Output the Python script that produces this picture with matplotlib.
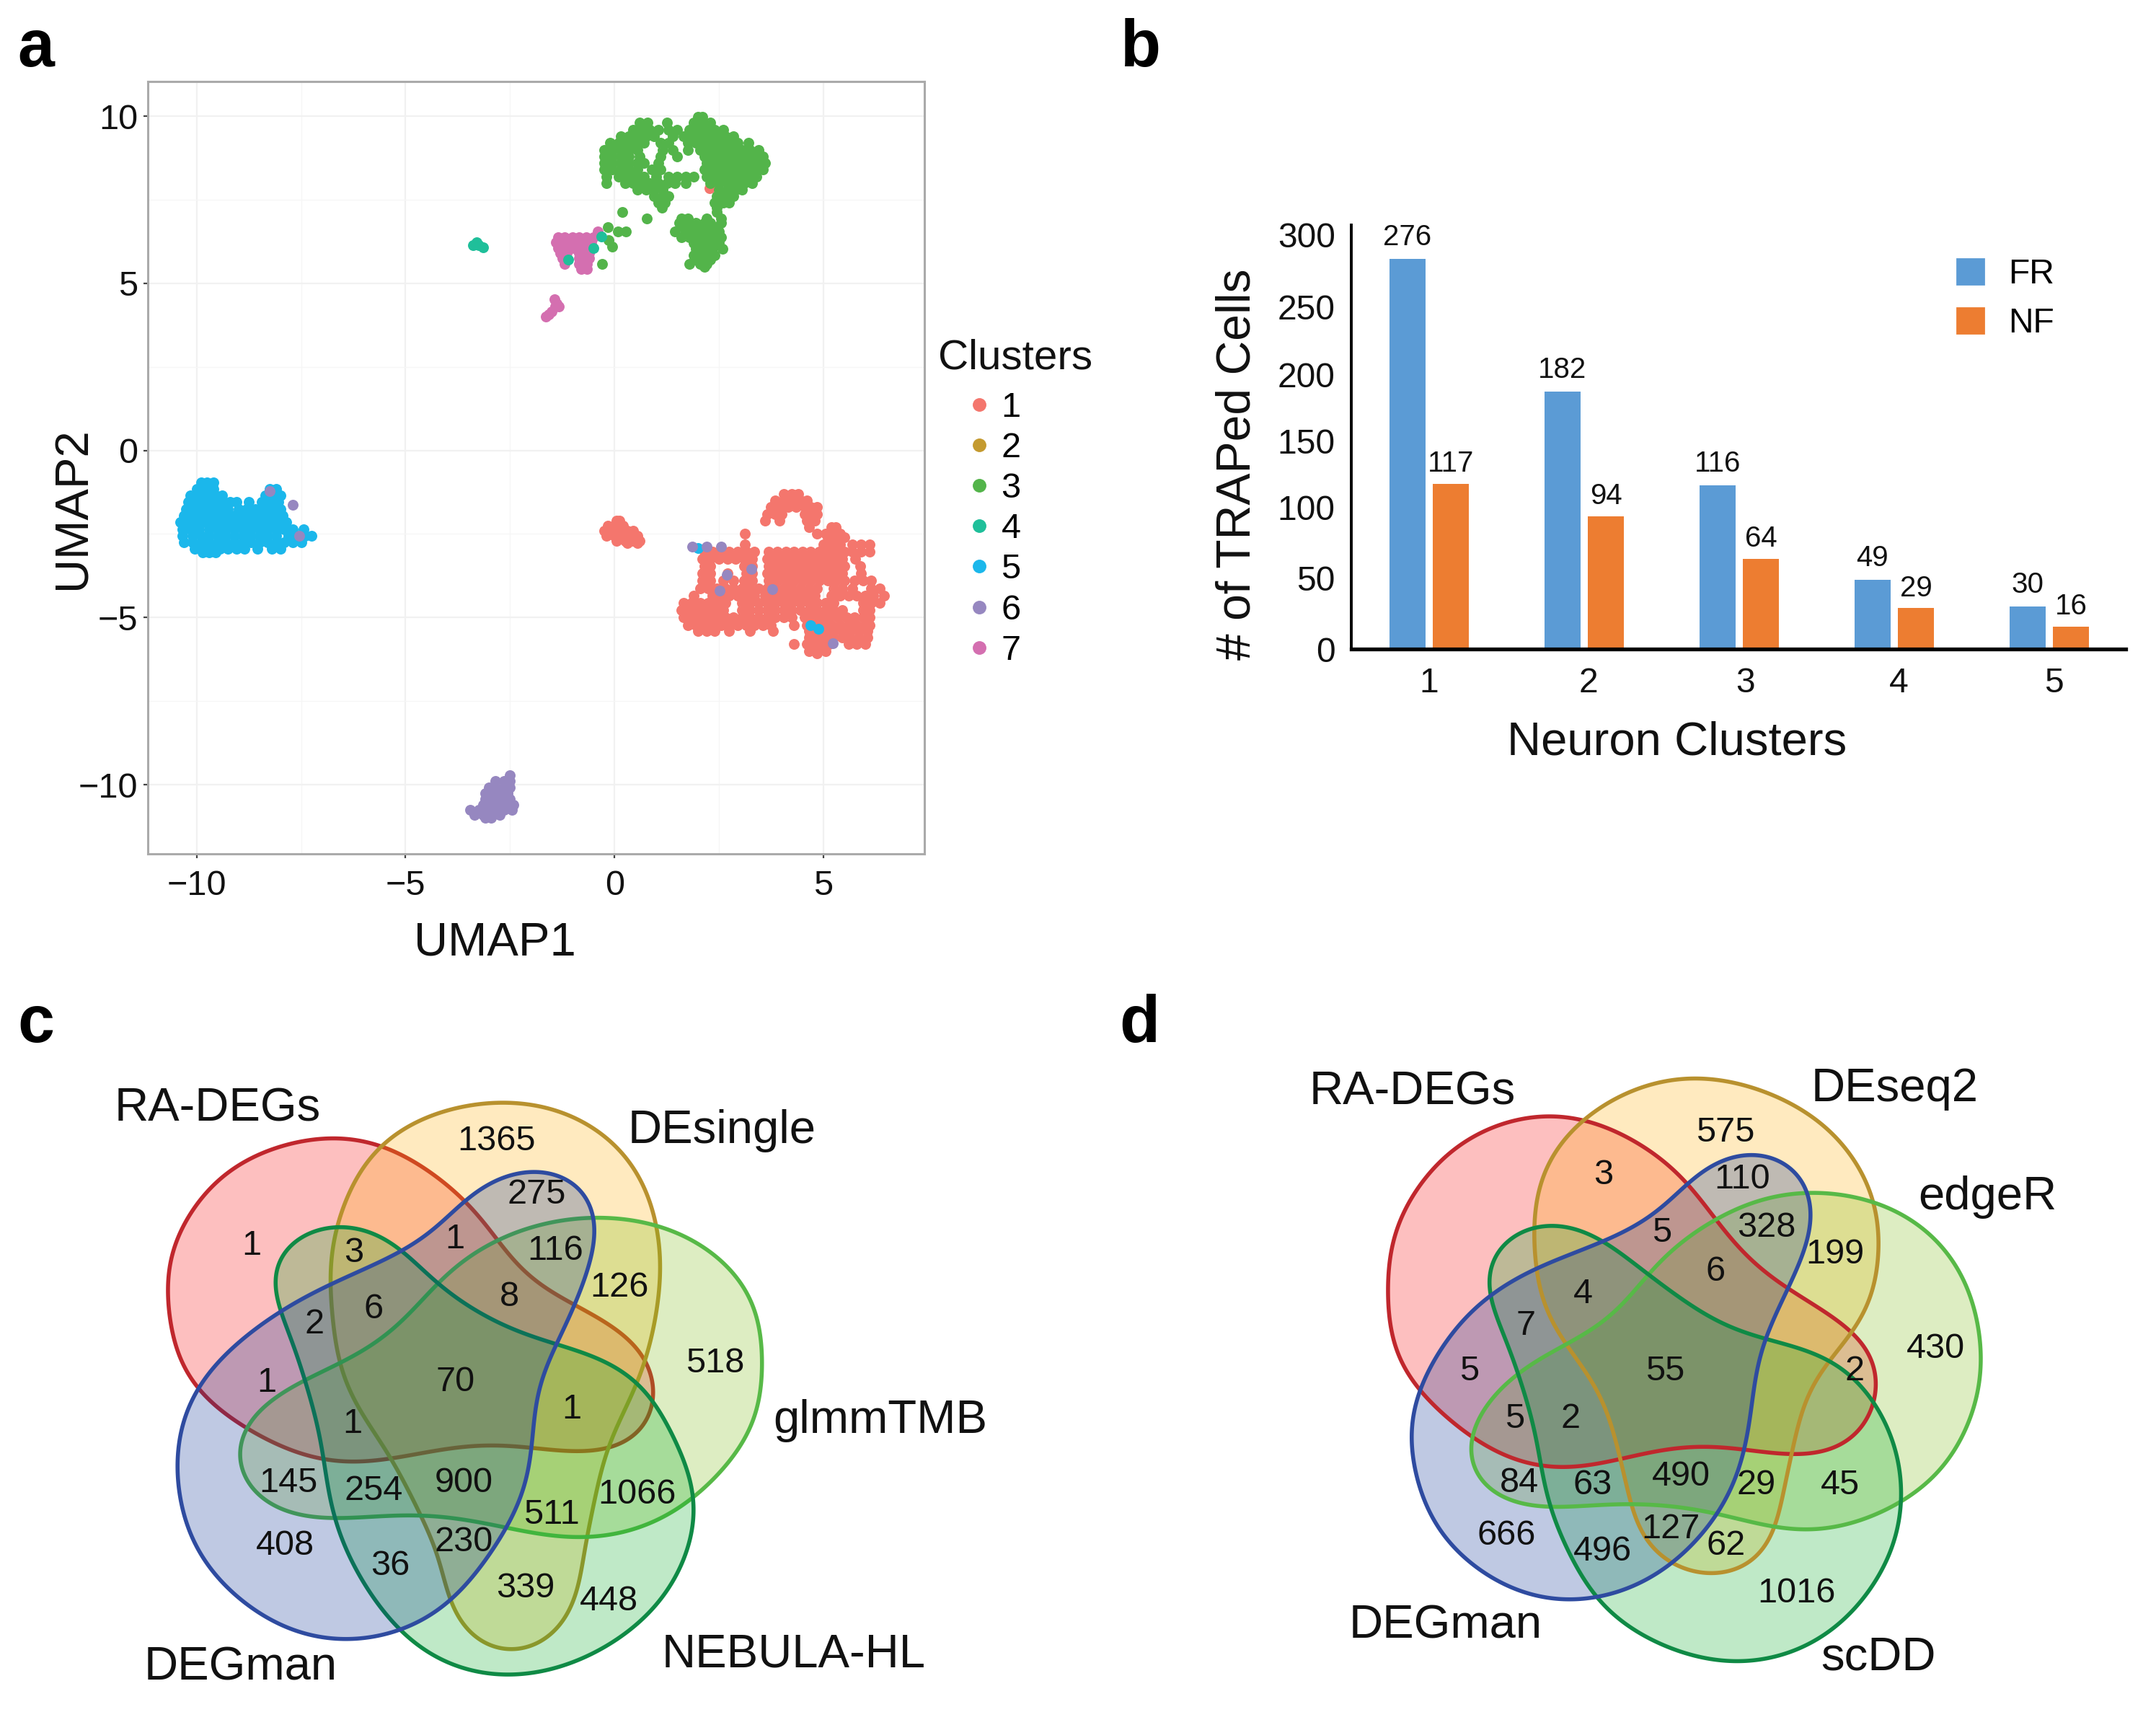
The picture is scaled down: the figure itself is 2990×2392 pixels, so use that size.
import matplotlib
matplotlib.use('Agg')
import matplotlib.pyplot as plt
from matplotlib.lines import Line2D
from matplotlib.patches import PathPatch, Patch
from matplotlib.path import Path
from matplotlib.colors import to_rgba
import numpy as np

plt.rcParams['font.family'] = ['Liberation Sans', 'DejaVu Sans']

W, H = 2990, 2392
DPI = 200

cluster1_rows = [
    (-1.3, [4.05, 4.25, 4.4]),
    (-1.5, [3.85, 4.05, 4.25, 4.45, 4.6]),
    (-1.7, [3.75, 3.95, 4.15, 4.35, 4.55, 4.7, 4.85]),
    (-1.9, [3.65, 3.85, 4.0, 4.55, 4.7, 4.85]),
    (-2.1, [3.6, 3.95, 4.6, 4.8]),
    (-2.3, [4.65, 5.2, 5.3]),
    (-2.5, [3.13, 4.85, 5.05, 5.25, 5.4]),
    (-2.6, [5.1, 5.3, 5.5]),
    (-2.82, [3.13, 5.0, 5.2, 5.4, 5.7, 5.9, 6.1]),
    (-3.02, [2.15, 2.35, 2.55, 2.75, 2.95, 3.15, 3.35, 3.7, 3.9, 4.1, 4.3, 4.5, 4.7, 4.9, 5.1, 5.3, 5.5, 5.7, 5.9, 6.1]),
    (-3.24, [2.1, 2.3, 2.5, 2.7, 2.9, 3.1, 3.3, 3.65, 3.85, 4.05, 4.25, 4.45, 4.65, 4.85, 5.05, 5.25, 5.45, 5.76]),
    (-3.46, [2.15, 2.3, 3.1, 3.3, 3.7, 3.9, 4.1, 4.3, 4.5, 4.7, 4.9, 5.1, 5.3, 5.5, 5.89]),
    (-3.68, [2.1, 2.3, 2.7, 3.15, 3.3, 3.65, 3.85, 4.05, 4.25, 4.45, 4.65, 4.85, 5.05, 5.25, 5.45, 5.9]),
    (-3.9, [2.1, 2.3, 2.6, 2.85, 3.1, 3.3, 3.7, 3.9, 4.1, 4.3, 4.5, 4.7, 4.9, 5.1, 5.3, 5.5, 5.75, 5.95, 6.15]),
    (-4.12, [2.05, 2.25, 2.45, 2.65, 2.85, 3.05, 3.25, 3.45, 3.65, 3.85, 4.05, 4.25, 4.45, 4.65, 4.85, 5.25, 5.45, 5.7, 6.15, 6.35]),
    (-4.34, [1.9, 2.35, 2.55, 2.75, 2.95, 3.15, 3.35, 3.6, 3.8, 4.0, 4.2, 4.4, 4.6, 4.8, 5.2, 5.4, 5.6, 5.8, 6.0, 6.2, 6.45]),
    (-4.56, [1.65, 1.85, 2.05, 2.25, 2.45, 2.65, 3.05, 3.25, 3.45, 3.65, 3.85, 4.05, 4.25, 4.45, 4.65, 4.85, 5.05, 5.25, 5.95, 6.15, 6.35]),
    (-4.78, [1.6, 1.8, 2.0, 2.2, 2.4, 2.6, 3.05, 3.25, 3.45, 3.65, 3.85, 4.05, 4.25, 4.45, 4.65, 4.85, 5.05, 5.25, 5.45, 5.95, 6.1]),
    (-5.0, [1.65, 1.85, 2.05, 2.25, 2.45, 2.65, 2.85, 3.05, 3.25, 3.45, 3.65, 3.85, 4.05, 4.25, 4.55, 4.75, 4.95, 5.15, 5.35, 5.55, 5.75, 5.95, 6.1]),
    (-5.22, [1.75, 1.95, 2.15, 2.35, 2.55, 2.75, 2.95, 3.15, 3.35, 3.55, 3.75, 4.3, 4.6, 4.8, 5.0, 5.2, 5.4, 5.6, 5.8, 6.0, 6.1]),
    (-5.4, [2.0, 2.2, 2.4, 2.75, 3.25, 3.8, 4.65, 4.85, 5.05, 5.25, 5.45, 5.65, 5.85, 6.05]),
    (-5.6, [4.65, 4.85, 5.05, 5.25, 5.45, 5.65, 5.85, 6.05]),
    (-5.8, [4.3, 4.6, 4.8, 5.0, 5.15, 5.6, 5.8, 6.0]),
    (-6.0, [4.65, 4.85, 5.05]),
    (-6.08, [4.85]),
    # small blob next to zero
    (-2.1, [0.05, 0.12]),
    (-2.25, [-0.15, 0.0, 0.2]),
    (-2.4, [-0.25, -0.05, 0.15, 0.3, 0.45]),
    (-2.55, [-0.2, 0.0, 0.2, 0.4, 0.55]),
    (-2.7, [0.05, 0.25, 0.45, 0.6]),
    (-2.78, [0.3, 0.55]),
    (7.84, [2.27]),
]
cluster3_rows = [
    (9.98, [2.0, 2.1]),
    (9.8, [0.6, 0.8, 1.25, 1.9, 2.1, 2.3]),
    (9.6, [0.45, 0.65, 0.85, 1.05, 1.3, 1.5, 1.8, 2.0, 2.2, 2.4, 2.6]),
    (9.4, [0.15, 0.35, 0.55, 0.75, 0.95, 1.4, 1.65, 1.85, 2.05, 2.25, 2.45, 2.65, 2.85]),
    (9.2, [-0.1, 0.1, 0.3, 0.5, 0.7, 1.1, 1.3, 1.75, 1.95, 2.15, 2.35, 2.55, 2.75, 2.95, 3.2]),
    (9.0, [-0.25, -0.05, 0.15, 0.35, 0.55, 1.15, 1.4, 1.75, 2.05, 2.25, 2.45, 2.65, 2.85, 3.05, 3.25, 3.45]),
    (8.8, [-0.25, -0.05, 0.15, 0.35, 0.6, 1.1, 1.5, 2.15, 2.35, 2.55, 2.75, 2.95, 3.15, 3.35, 3.55]),
    (8.6, [-0.25, -0.05, 0.15, 0.35, 0.55, 0.7, 1.05, 2.2, 2.4, 2.6, 2.8, 3.0, 3.2, 3.4, 3.6]),
    (8.4, [-0.25, -0.05, 0.15, 0.35, 0.55, 0.9, 1.1, 2.15, 2.35, 2.55, 2.75, 2.95, 3.15, 3.35, 3.55]),
    (8.2, [-0.2, 0.1, 0.3, 0.5, 0.7, 1.0, 1.3, 1.5, 1.7, 1.9, 2.2, 2.4, 2.6, 2.8, 3.0, 3.2, 3.4]),
    (8.0, [-0.2, 0.25, 0.45, 0.65, 0.85, 1.05, 1.25, 1.45, 1.7, 2.3, 2.5, 2.7, 2.9, 3.1, 3.3]),
    (7.8, [0.55, 0.75, 0.95, 1.15, 2.5, 2.7, 2.9, 3.05]),
    (7.6, [0.95, 1.15, 1.3, 2.45, 2.65, 2.85]),
    (7.42, [1.05, 1.2, 2.4, 2.6, 2.75]),
    (7.27, [1.13, 2.45]),
    (7.13, [0.18, 2.45]),
    (6.95, [0.77, 1.6, 1.75, 2.2, 2.55]),
    (6.8, [1.55, 1.75, 1.95, 2.15, 2.3, 2.55]),
    (6.68, [-0.15, 1.65, 1.85, 2.05, 2.25, 2.45]),
    (6.55, [0.08, 0.28, 1.45, 1.7, 1.9, 2.1, 2.3, 2.5]),
    (6.38, [1.6, 1.8, 2.0, 2.2, 2.4, 2.55]),
    (6.3, [-0.14]),
    (6.2, [1.9, 2.1, 2.3, 2.5]),
    (6.1, [-0.05]),
    (6.03, [1.95, 2.15, 2.35, 2.58]),
    (5.85, [1.9, 2.05, 2.25, 2.4]),
    (5.7, [1.95, 2.15, 2.3]),
    (5.58, [-0.29, 1.8, 2.05, 2.2]),
    (5.5, [2.15]),
]
cluster4_rows = [
    (6.22, [-3.3]),
    (6.14, [-3.38, -3.25]),
    (6.08, [-3.15]),
    (6.4, [-0.32]),
    (6.05, [-0.51]),
    (5.72, [-1.1]),
]
cluster5_rows = [
    (-0.95, [-9.9, -9.75, -9.6]),
    (-1.15, [-10.0, -9.8, -9.6, -8.25, -8.1]),
    (-1.35, [-10.15, -9.95, -9.75, -9.55, -9.4, -8.35, -8.15, -8.0]),
    (-1.55, [-10.2, -10.0, -9.8, -9.6, -9.4, -9.2, -9.05, -8.75, -8.45, -8.25, -8.05]),
    (-1.75, [-10.25, -10.05, -9.85, -9.65, -9.45, -9.25, -9.0, -8.8, -8.6, -8.4, -8.2, -8.0]),
    (-1.95, [-10.3, -10.1, -9.9, -9.7, -9.5, -9.3, -9.1, -8.9, -8.7, -8.5, -8.3, -8.1, -7.95]),
    (-2.15, [-10.4, -10.2, -10.0, -9.8, -9.6, -9.4, -9.2, -9.0, -8.8, -8.6, -8.4, -8.2, -8.0, -7.85]),
    (-2.35, [-10.35, -10.15, -9.95, -9.7, -9.5, -9.3, -9.1, -8.9, -8.7, -8.5, -8.3, -8.1, -7.9, -7.7, -7.45]),
    (-2.55, [-10.35, -10.1, -9.9, -9.7, -9.5, -9.3, -9.1, -8.9, -8.7, -8.5, -8.3, -8.1, -7.8, -7.6, -7.4, -7.25]),
    (-2.75, [-10.3, -10.1, -9.9, -9.7, -9.5, -9.3, -9.1, -8.9, -8.7, -8.5, -8.3, -8.1, -7.9, -7.7, -7.5]),
    (-2.95, [-10.05, -9.85, -9.65, -9.45, -9.25, -9.05, -8.85, -8.55, -8.2, -8.0]),
    (-3.05, [-9.85, -9.7, -9.55]),
    (-2.93, [2.0]),
    (-5.24, [4.7]),
    (-5.34, [4.88]),
]
cluster6_rows = [
    (-9.72, [-2.5]),
    (-9.9, [-2.85, -2.65, -2.5]),
    (-10.08, [-3.0, -2.85, -2.65, -2.5]),
    (-10.25, [-3.1, -2.95, -2.75, -2.55]),
    (-10.42, [-3.1, -2.9, -2.7, -2.5]),
    (-10.6, [-3.15, -2.95, -2.75, -2.55, -2.42]),
    (-10.75, [-3.45, -3.25, -3.05, -2.85, -2.65, -2.45]),
    (-10.9, [-3.35, -3.15, -2.95, -2.75]),
    (-11.0, [-3.1, -2.95]),
    (-2.88, [1.87, 2.2, 2.56]),
    (-3.71, [2.69]),
    (-3.55, [3.28]),
    (-4.2, [2.52]),
    (-4.15, [3.78]),
    (-5.76, [5.22]),
    (-1.22, [-8.26]),
    (-2.55, [-7.54]),
    (-1.62, [-7.7]),
]
cluster7_rows = [
    (6.55, [-0.4]),
    (6.38, [-1.35, -1.2, -1.0, -0.85, -0.68, -0.5]),
    (6.22, [-1.4, -1.25, -1.05, -0.9, -0.72, -0.55]),
    (6.06, [-1.35, -1.15, -1.0, -0.8, -0.62]),
    (5.9, [-1.3, -1.15, -0.85, -0.7, -0.6]),
    (5.75, [-1.25, -0.85, -0.7, -0.6]),
    (5.58, [-1.2, -0.85, -0.65]),
    (5.42, [-0.8, -0.65]),
    (4.53, [-1.43]),
    (4.4, [-1.38]),
    (4.3, [-1.33, -1.42]),
    (4.15, [-1.5]),
    (4.06, [-1.58]),
    (4.0, [-1.64]),
]

cluster_labels = ['1', '2', '3', '4', '5', '6', '7']
cluster_colors = ['#F4766D', '#C49A2F', '#53B44A', '#1FBF9A', '#1BB7EB', '#9687C0', '#D46FB0']

# --- panel b ---
neuron_clusters = [1, 2, 3, 4, 5]
fr_counts = [276, 182, 116, 49, 30]
nf_counts = [117, 94, 64, 29, 16]

# --- panels c and d: outlines and labels, in the same 1568x1568 grid per panel ---
set_colors = ['#F80000', '#FFAF00', '#7BBB0F', '#03AB23', '#032B93']
line_colors = ['#C0272D', '#B8912E', '#57B947', '#0F8A45', '#2E4BA0']

c_red = [(505, 328), (580, 345), (650, 395), (715, 465), (770, 565), (830, 645), (900, 700), (970, 760),
         (1000, 840), (995, 920), (960, 975), (900, 995), (810, 985), (720, 980), (640, 1000), (540, 1017),
         (470, 1005), (390, 955), (320, 890), (275, 800), (255, 680), (265, 560), (310, 450), (390, 365)]
c_gold = [(770, 252), (860, 275), (940, 340), (995, 450), (1012, 590), (1005, 720), (975, 850), (930, 990),
          (905, 1120), (895, 1230), (870, 1330), (830, 1400), (785, 1417), (730, 1395), (695, 1320), (670, 1220),
          (640, 1110), (590, 990), (535, 870), (510, 740), (505, 620), (520, 490), (565, 370), (650, 285)]
c_lgreen = [(920, 498), (1010, 515), (1100, 580), (1155, 680), (1170, 820), (1150, 950), (1090, 1060), (1010, 1140),
            (920, 1175), (830, 1170), (760, 1150), (680, 1130), (590, 1130), (500, 1135), (420, 1115), (375, 1050),
            (365, 980), (400, 900), (470, 840), (560, 780), (630, 700), (690, 610), (770, 540), (840, 510)]
c_dgreen = [(520, 515), (580, 535), (630, 590), (690, 660), (770, 730), (850, 765), (940, 810), (1010, 900),
            (1055, 1040), (1065, 1140), (1030, 1280), (950, 1390), (860, 1450), (770, 1468), (680, 1440), (610, 1370),
            (550, 1260), (510, 1130), (495, 1000), (470, 850), (430, 700), (420, 630), (445, 550)]
c_blue = [(820, 398), (875, 420), (910, 490), (905, 590), (880, 690), (845, 780), (820, 900), (812, 1000),
          (800, 1090), (760, 1190), (700, 1300), (620, 1370), (530, 1393), (440, 1370), (360, 1300), (300, 1200),
          (272, 1080), (275, 950), (310, 840), (380, 745), (450, 680), (530, 625), (620, 570), (700, 480), (760, 420)]

d_red = [(730, 283), (800, 295), (880, 340), (950, 405), (1010, 500), (1070, 590), (1140, 655), (1220, 720),
         (1275, 790), (1280, 870), (1255, 950), (1210, 990), (1140, 1000), (1060, 990), (985, 982), (900, 995),
         (820, 1020), (740, 1028), (660, 1005), (590, 950), (510, 860), (470, 750), (462, 640), (480, 510),
         (540, 390), (630, 310)]
d_gold = [(975, 203), (1080, 225), (1170, 280), (1250, 380), (1285, 510), (1285, 600), (1255, 720), (1190, 820),
          (1150, 930), (1135, 1030), (1115, 1140), (1075, 1230), (1000, 1255), (930, 1225), (885, 1160), (860, 1050),
          (830, 900), (780, 800), (730, 700), (710, 600), (710, 470), (745, 350), (820, 265), (900, 218)]
d_lgreen = [(1180, 445), (1280, 465), (1370, 530), (1430, 630), (1457, 760), (1450, 890), (1400, 1020), (1320, 1105),
            (1230, 1150), (1150, 1160), (1060, 1140), (960, 1110), (860, 1105), (760, 1110), (680, 1105), (620, 1060),
            (600, 980), (630, 890), (700, 810), (790, 750), (860, 680), (920, 590), (1000, 510), (1090, 460)]
d_dgreen = [(735, 512), (790, 530), (850, 570), (920, 640), (1000, 710), (1090, 755), (1190, 790), (1270, 870),
            (1315, 990), (1325, 1100), (1300, 1230), (1230, 1350), (1140, 1420), (1040, 1440), (930, 1410), (830, 1330),
            (770, 1220), (730, 1090), (710, 950), (680, 820), (640, 690), (632, 610), (670, 540)]
d_blue = [(1075, 363), (1130, 385), (1165, 440), (1172, 510), (1150, 610), (1105, 720), (1080, 830), (1065, 960),
          (1045, 1060), (990, 1170), (920, 1250), (840, 1295), (770, 1308), (680, 1290), (590, 1220), (530, 1120),
          (503, 1000), (510, 880), (570, 740), (640, 660), (720, 600), (830, 550), (910, 490), (970, 425), (1020, 380)]

c_numbers = [('1', 385, 560), ('1365', 760, 338), ('275', 822, 452), ('1', 697, 545), ('116', 850, 570),
             ('3', 542, 575), ('126', 948, 648), ('8', 780, 668), ('6', 572, 693), ('2', 482, 725),
             ('518', 1095, 808), ('70', 697, 847), ('1', 408, 848), ('1', 875, 905), ('1', 540, 935),
             ('145', 442, 1060), ('900', 710, 1060), ('254', 572, 1077), ('1066', 975, 1085), ('511', 845, 1128),
             ('230', 710, 1185), ('408', 437, 1192), ('36', 598, 1235), ('339', 805, 1282), ('448', 933, 1310)]
d_numbers = [('575', 1028, 320), ('3', 825, 410), ('110', 1057, 420), ('328', 1097, 522), ('5', 922, 532),
             ('199', 1212, 578), ('6', 1012, 615), ('4', 790, 662), ('7', 695, 728), ('430', 1380, 777),
             ('55', 928, 825), ('5', 600, 825), ('2', 1245, 825), ('5', 676, 925), ('2', 770, 925),
             ('490', 955, 1047), ('84', 684, 1060), ('63', 806, 1065), ('29', 1080, 1065), ('45', 1220, 1065),
             ('127', 937, 1158), ('666', 662, 1172), ('62', 1030, 1192), ('496', 823, 1205), ('1016', 1147, 1293)]
c_names = [('RA-DEGs', 333, 270), ('DEsingle', 1105, 316), ('glmmTMB', 1348, 928),
           ('NEBULA-HL', 1215, 1423), ('DEGman', 368, 1450)]
d_names = [('RA-DEGs', 505, 235), ('DEseq2', 1312, 228), ('edgeR', 1467, 457),
           ('DEGman', 560, 1362), ('scDD', 1285, 1428)]


def px_axes(fig, x0, y0, x1, y1):
    # axes placed by pixel box, y measured from the top of the image
    return fig.add_axes([x0 / W, 1 - y1 / H, (x1 - x0) / W, (y1 - y0) / H])


def rows_to_xy(rows):
    xs = [x for y, row in rows for x in row]
    ys = [y for y, row in rows for x in row]
    return xs, ys


def smooth_outline(points, harmonics=10, n=720):
    # hand-read outline is a bit lumpy: walk it evenly, keep the low frequencies only
    p = np.array(list(points) + [points[0]], dtype=float)
    dist = np.r_[0, np.cumsum(np.hypot(*np.diff(p, axis=0).T))]
    t = np.linspace(0, dist[-1], n, endpoint=False)
    z = np.interp(t, dist, p[:, 0]) + 1j * np.interp(t, dist, p[:, 1])
    spec = np.fft.fft(z)
    freq = np.abs(np.fft.fftfreq(n, 1 / n))
    spec[freq > harmonics] = 0
    z = np.fft.ifft(spec)
    verts = np.c_[z.real, z.imag]
    return Path(np.vstack([verts, verts[:1]]), closed=True)


def draw_venn(ax, outlines, numbers, names, lines_on_top):
    paths = [smooth_outline(o) for o in outlines]
    for path, fc, lc in zip(paths, set_colors, line_colors):
        ax.add_patch(PathPatch(path, facecolor=to_rgba(fc, 0.25), edgecolor='none'))
        if not lines_on_top:
            ax.add_patch(PathPatch(path, facecolor='none', edgecolor=lc, linewidth=2.0))
    if lines_on_top:
        for path, lc in zip(paths, line_colors):
            ax.add_patch(PathPatch(path, facecolor='none', edgecolor=lc, linewidth=2.0))
    for label, x, y in numbers:
        ax.text(x, y, label, ha='center', va='center', fontsize=17.5, color='#111111')
    for label, x, y in names:
        ax.text(x, y, label, ha='center', va='center', fontsize=23.5, color='#111111')
    ax.set_xlim(0, 1568)
    ax.set_ylim(1568, 0)
    ax.axis('off')


fig = plt.figure(figsize=(W / DPI, H / DPI), dpi=DPI)

# --- a: UMAP scatter ---
ax_a = px_axes(fig, 205, 113, 1282, 1184)
draw_order = [(cluster1_rows, 0), (cluster3_rows, 2), (cluster5_rows, 4),
              (cluster7_rows, 6), (cluster4_rows, 3), (cluster6_rows, 5)]
for rows, idx in draw_order:
    xs, ys = rows_to_xy(rows)
    ax_a.scatter(xs, ys, s=29, color=cluster_colors[idx], linewidths=0, zorder=3)
ax_a.set_xlim(-11.17, 7.42)
ax_a.set_ylim(-12.07, 11.04)
ax_a.set_xticks([-10, -5, 0, 5], labels=['\u221210', '\u22125', '0', '5'])
ax_a.set_yticks([-10, -5, 0, 5, 10], labels=['\u221210', '\u22125', '0', '5', '10'])
ax_a.set_xticks([-7.5, -2.5, 2.5], minor=True)
ax_a.set_yticks([-7.5, -2.5, 2.5, 7.5], minor=True)
ax_a.grid(True, which='major', color='#F1F1F1', linewidth=0.8, zorder=0)
ax_a.grid(True, which='minor', color='#F6F6F6', linewidth=0.5, zorder=0)
ax_a.tick_params(which='minor', length=0)
ax_a.tick_params(which='major', labelsize=17.5, length=2, width=0.8, color='#444444', labelcolor='#111111')
ax_a.tick_params(axis='x', which='major', pad=6)
ax_a.tick_params(axis='y', which='major', pad=3)
for spine in ax_a.spines.values():
    spine.set_color('#AAAAAA')
    spine.set_linewidth(1.1)
ax_a.set_axisbelow(True)
fig.text(686 / W, 1 - 1307 / H, 'UMAP1', ha='center', va='center', fontsize=23.5, color='#111111')
fig.text(102 / W, 1 - 705 / H, 'UMAP2', ha='center', va='center', rotation=90, fontsize=23.5, color='#111111')

cluster_handles = [Line2D([], [], linestyle='none', marker='o', markersize=6.8, markeredgewidth=0, color=c)
                   for c in cluster_colors]
leg_a = ax_a.legend(cluster_handles, cluster_labels, title='Clusters', frameon=False, fontsize=17.5,
                    title_fontsize=21, alignment='left', loc='upper left',
                    bbox_to_anchor=(1301 / W, 1 - 470 / H), bbox_transform=fig.transFigure,
                    borderpad=0, borderaxespad=0, labelspacing=0.23, handlelength=2.35, handletextpad=-0.55)
leg_a.get_title().set_color('#111111')
# a bit more room under the title than the label spacing gives
leg_a._legend_box.sep = 6.7

# --- b: bars ---
ax_b = px_axes(fig, 1874, 312, 2948, 900)
x = np.array(neuron_clusters, dtype=float)
bars_fr = ax_b.bar(x - 0.14, fr_counts, width=0.23, color='#5B9BD5', label='FR')
bars_nf = ax_b.bar(x + 0.14, nf_counts, width=0.23, color='#ED7D31', label='NF')
ax_b.bar_label(bars_fr, padding=4, fontsize=14.5, color='#111111')
ax_b.bar_label(bars_nf, padding=3, fontsize=14.5, color='#111111')
ax_b.set_xlim(0.498, 5.493)
ax_b.set_ylim(0, 300)
ax_b.set_xticks([1, 2.03, 3.04, 4.03, 5.03], labels=[str(n) for n in neuron_clusters])
# the printed labels sit a little off the true scale in the original
ax_b.set_yticks([0, 50.5, 100.5, 147, 194, 242, 293], labels=['0', '50', '100', '150', '200', '250', '300'])
ax_b.tick_params(axis='both', length=0, labelsize=17.3, labelcolor='#111111')
ax_b.tick_params(axis='x', pad=9)
ax_b.tick_params(axis='y', pad=8)
for side in ['top', 'right']:
    ax_b.spines[side].set_visible(False)
ax_b.spines['left'].set_linewidth(1.4)
ax_b.spines['bottom'].set_linewidth(1.9)
fig.text(2326 / W, 1 - 1029 / H, 'Neuron Clusters', ha='center', va='center', fontsize=23.5, color='#111111')
fig.text(1716 / W, 1 - 644 / H, '# of TRAPed Cells', ha='center', va='center', rotation=90, fontsize=23.8, color='#111111')
ax_b.legend(handles=[Patch(color='#5B9BD5', label='FR'), Patch(color='#ED7D31', label='NF')], frameon=False,
            fontsize=17.3, loc='upper left', bbox_to_anchor=(2714 / W, 1 - 358 / H), bbox_transform=fig.transFigure,
            borderpad=0, borderaxespad=0, handlelength=0.77, handleheight=0.75, labelspacing=0.48, handletextpad=0.7)

# --- c, d: venn diagrams ---
ax_c = px_axes(fig, 0, 1360, 1420, 2390)
draw_venn(ax_c, [c_red, c_gold, c_lgreen, c_dgreen, c_blue], c_numbers, c_names, lines_on_top=False)
ax_d = px_axes(fig, 1540, 1360, 2840, 2390)
draw_venn(ax_d, [d_red, d_gold, d_lgreen, d_dgreen, d_blue], d_numbers, d_names, lines_on_top=True)

# --- panel letters ---
for letter, px, py in [('a', 24, 92), ('b', 1554, 92), ('c', 24, 1445), ('d', 1552, 1445)]:
    fig.text(px / W, 1 - py / H, letter, fontsize=33, fontweight='bold', ha='left', va='baseline', color='black')

fig.savefig('out.png', dpi=DPI, facecolor='white')
